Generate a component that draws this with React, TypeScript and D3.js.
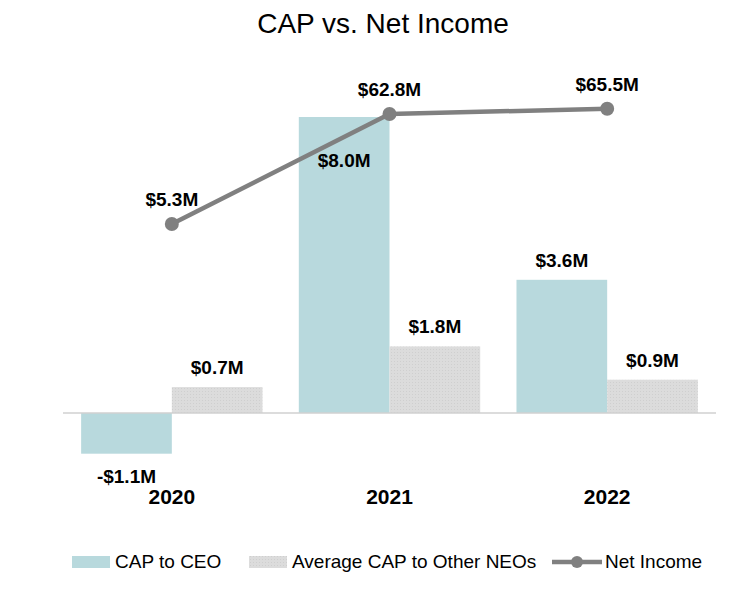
import React from "react";
import * as d3 from "d3";

const years = ["2020", "2021", "2022"];
const capCeo = [-1.1, 8.0, 3.6];
const capNeo = [0.7, 1.8, 0.9];
const netIncome = [5.3, 62.8, 65.5];
const ceoLabels = ["-$1.1M", "$8.0M", "$3.6M"];
const neoLabels = ["$0.7M", "$1.8M", "$0.9M"];
const niLabels = ["$5.3M", "$62.8M", "$65.5M"];
const ceoLabelInside = [false, true, false];

const W = 750;
const H = 595;
const FONT = "'Liberation Sans', Arial, sans-serif";
const TEAL = "#b8d9dd";
const GRAY = "#d9d9d9";
const LINE = "#808080";

export default function App() {
  const x0 = d3.scaleBand<string>().domain(years).range([63, 716]).paddingInner(0.1667).paddingOuter(0.0833);
  const x1 = d3.scaleBand<string>().domain(["ceo", "neo"]).range([0, x0.bandwidth()]).padding(0);
  const y = d3.scaleLinear().domain([0, 8]).range([413, 117]);
  const y2 = d3.scaleLinear().domain([0, 60]).range([234.1, 119.3]);
  const cx = (yr: string) => (x0(yr) as number) + x0.bandwidth() / 2;

  const line = d3
    .line<number>()
    .x((_, i) => cx(years[i]))
    .y((d) => y2(d));

  const bw = x1.bandwidth();

  return (
    <svg width={W} height={H} style={{ position: "absolute", left: 0, top: 0, background: "#fff" }} fontFamily={FONT}>
      <defs>
        <pattern id="dots" width="3" height="3" patternUnits="userSpaceOnUse">
          <rect width="3" height="3" fill="#dcdcdc" />
          <rect x="1" y="1" width="1" height="1" fill="#cfcfcf" />
        </pattern>
      </defs>
      <rect width={W} height={H} fill="#fff" />
      <text x={383} y={33} textAnchor="middle" fontSize={28} fill="#000">
        CAP vs. Net Income
      </text>

      {years.map((yr, i) => {
        const xc = (x0(yr) as number) + (x1("ceo") as number);
        const xn = (x0(yr) as number) + (x1("neo") as number);
        const v = capCeo[i];
        const top = Math.min(y(v), y(0));
        const h = Math.abs(y(v) - y(0));
        const n = capNeo[i];
        return (
          <g key={yr}>
            <rect x={xc} y={top} width={bw} height={h} fill={TEAL} />
            <rect x={xn} y={y(n)} width={bw} height={y(0) - y(n)} fill="url(#dots)" />
          </g>
        );
      })}

      <line x1={63} x2={716} y1={y(0)} y2={y(0)} stroke="#d0d0d0" strokeWidth={1.5} />

      <path d={line(netIncome) || ""} fill="none" stroke={LINE} strokeWidth={4.5} />
      {netIncome.map((v, i) => (
        <circle key={i} cx={cx(years[i])} cy={y2(v)} r={7} fill={LINE} />
      ))}

      {years.map((yr, i) => {
        const xc = (x0(yr) as number) + (x1("ceo") as number) + bw / 2;
        const xn = (x0(yr) as number) + (x1("neo") as number) + bw / 2;
        const v = capCeo[i];
        let ly: number;
        if (v < 0) ly = y(v) + 29;
        else if (ceoLabelInside[i]) ly = y(v) + 50;
        else ly = y(v) - 13;
        return (
          <g key={"l" + yr} fontWeight="bold" fontSize={19} textAnchor="middle" fill="#000">
            <text x={xc} y={ly}>{ceoLabels[i]}</text>
            <text x={xn} y={y(capNeo[i]) - 13}>{neoLabels[i]}</text>
            <text x={cx(yr)} y={y2(netIncome[i]) - 18}>{niLabels[i]}</text>
            <text x={cx(yr)} y={504} fontSize={21}>{yr}</text>
          </g>
        );
      })}

      <g fontSize={19} fill="#000">
        <rect x={72} y={556} width={38} height={12} fill={TEAL} />
        <text x={115} y={568}>CAP to CEO</text>
        <rect x={249} y={556} width={38} height={12} fill="url(#dots)" />
        <text x={292} y={568}>Average CAP to Other NEOs</text>
        <line x1={552} x2={602} y1={562} y2={562} stroke={LINE} strokeWidth={4.5} />
        <circle cx={577} cy={562} r={6} fill={LINE} />
        <text x={605} y={568}>Net Income</text>
      </g>
    </svg>
  );
}
